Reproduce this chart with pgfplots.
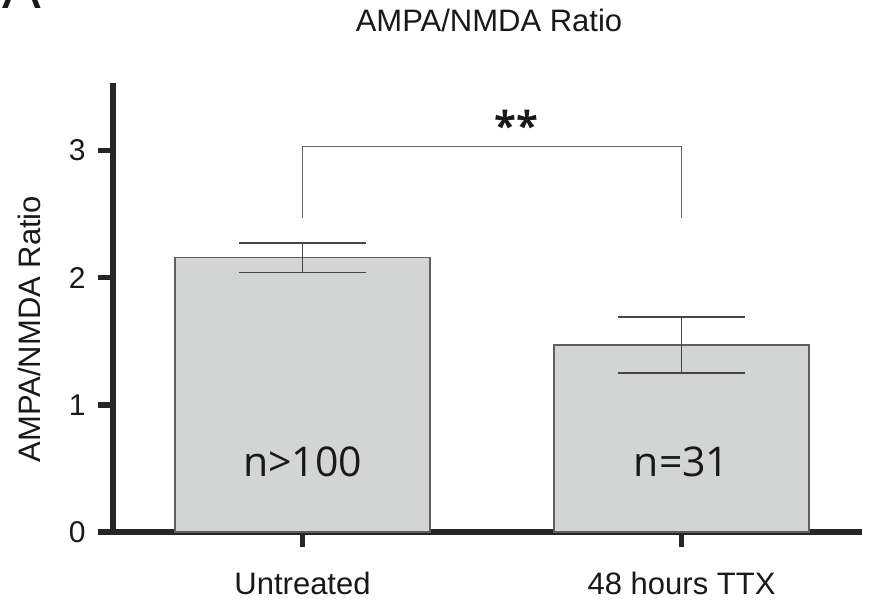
\documentclass[border=0pt]{standalone}
\usepackage{fontspec}
\setmainfont{Liberation Sans}
\newfontfamily\osans{Open Sans}
\usepackage{pgfplots}
\pgfplotsset{compat=1.18}
\definecolor{barfill}{RGB}{211,212,212}
\definecolor{bardraw}{RGB}{95,95,95}
\definecolor{errc}{RGB}{70,70,70}
\definecolor{brk}{RGB}{100,100,100}
\definecolor{txt}{RGB}{25,25,25}
\begin{document}
\begin{tikzpicture}[x=1pt,y=1pt]
\useasboundingbox (0,0) rectangle (874,605);
\node[anchor=base west, font=\fontsize{58}{60}\selectfont, text=txt, inner sep=0pt] at (2,596) {A};
\begin{axis}[
  at={(113pt,73pt)}, anchor=south west,
  scale only axis, width=749pt, height=449pt,
  xmin=-0.5, xmax=1.476, ymin=0, ymax=3.53,
  ybar, bar width=255pt,
  axis x line=bottom, axis y line=left,
  axis line style={line width=5.5pt, -, black!85},
  xtick={0,1}, xticklabels={Untreated, 48 hours TTX},
  ytick={0,1,2,3},
  tick style={line width=5.5pt, black!85},
  major tick length=15pt, tick align=outside,
  /pgf/number format/assume math mode=true,
  xticklabel style={font=\fontsize{31}{36}\selectfont, text=txt, yshift=-21pt},
  yticklabel style={font=\fontsize{30}{36}\selectfont, text=txt, xshift=-9pt},
  ylabel={AMPA/NMDA Ratio},
  ylabel style={at={(axis description cs:-0.111,0.452)}, anchor=center, font=\fontsize{31}{36}\selectfont, text=txt},
  title={AMPA/NMDA Ratio},
  title style={at={(axis description cs:0.502,1.125)}, anchor=center, font=\fontsize{31}{36}\selectfont, text=txt},
  clip=false,
]
\addplot[fill=barfill, draw=bardraw, line width=1.5pt,
  error bars/.cd, y dir=both, y explicit,
  error bar style={line width=1.8pt, color=errc},
  error mark options={line width=1.8pt, mark size=63.5pt, color=errc, rotate=90}]
  coordinates {(0,2.16) += (0,0.11) -= (0,0.12) (1,1.47) += (0,0.22) -= (0,0.22)};
\draw[line width=1.8pt, color=brk] (axis cs:0,2.47) -- (axis cs:0,3.03) -- (axis cs:1,3.03) -- (axis cs:1,2.47);
\node[font=\osans\bfseries\fontsize{40}{44}\selectfont, text=txt] at (axis cs:0.565,3.20) {**};
\node[font=\osans\fontsize{41}{46}\selectfont, text=txt] at (axis cs:0,0.55) {n>100};
\node[font=\osans\fontsize{41}{46}\selectfont, text=txt] at (axis cs:1,0.55) {n=31};
\end{axis}
\end{tikzpicture}
\end{document}
